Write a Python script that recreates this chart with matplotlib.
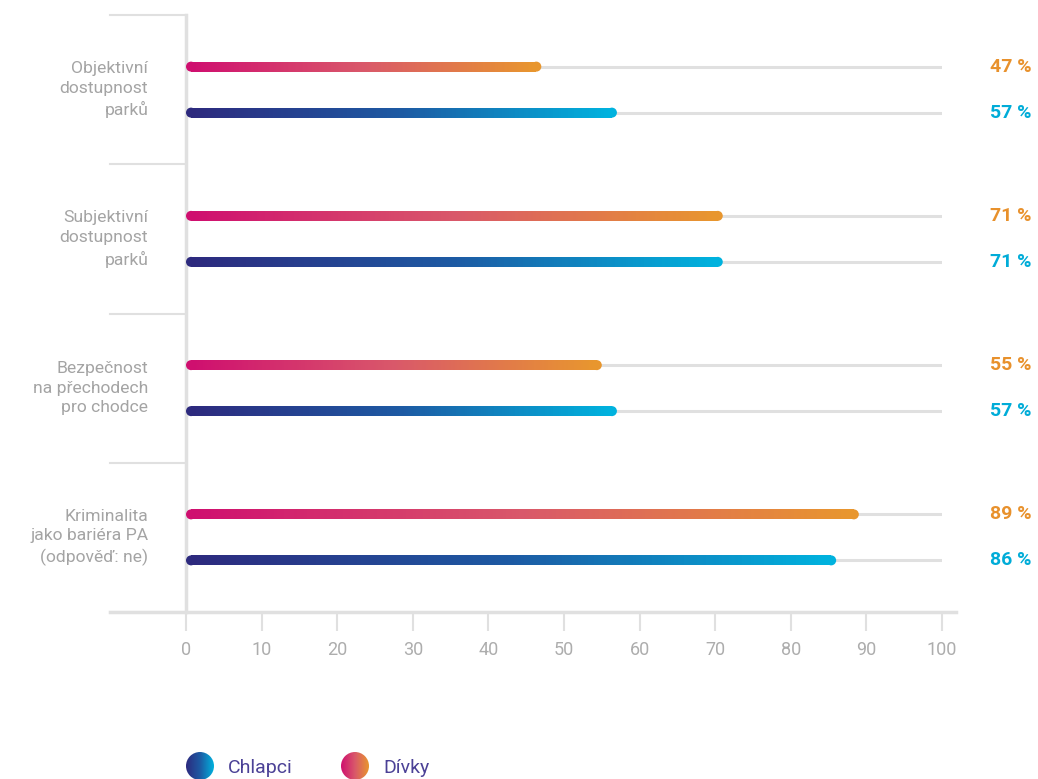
import numpy as np
import matplotlib
matplotlib.use("Agg")
import matplotlib.pyplot as plt
from matplotlib.collections import LineCollection
from matplotlib.colors import LinearSegmentedColormap
from matplotlib.patches import Circle

plt.rcParams['font.family'] = ['Roboto', 'DejaVu Sans']

categories = ["Objektivní\ndostupnost\nparků",
              "Subjektivní\ndostupnost\nparků",
              "Bezpečnost\nna přechodech\npro chodce",
              "Kriminalita\njako bariéra PA\n(odpověď: ne)"]
divky = [47, 71, 55, 89]
chlapci = [57, 71, 57, 86]
xticks = list(range(0, 101, 10))

cmap_boys = LinearSegmentedColormap.from_list("boys", ["#2d2a7e", "#1d5aa3", "#00b2de"])
cmap_girls = LinearSegmentedColormap.from_list("girls", ["#cf0f6f", "#d9586a", "#e8962e"])
col_girls_txt = "#e8912c"
col_boys_txt = "#00acd8"
grid_col = "#e0e0e0"
label_col = "#a4a4a4"

W, H = 1038, 779
fig = plt.figure(figsize=(W / 100, H / 100), dpi=100)

# main axes: x 0..100 between px 186 and 942, bands between px 15 and 612
ax = fig.add_axes([186 / W, 1 - 612 / H, (942 - 186) / W, (612 - 15) / H])
ax.set_xlim(0, 100)
ax.set_ylim(0, 4)
for s in ax.spines.values():
    s.set_visible(False)
ax.set_yticks([])
ax.set_xticks(xticks)
ax.tick_params(axis='x', length=14, width=1.5, color=grid_col, pad=7,
               labelsize=13, labelcolor="#adadad")

px = 100 / 756  # data units per pixel on x
off = 23 / (597 / 4)  # vertical offset of the two bars within a band
lw = 10 * 0.72
r = 5 * px


def grad_bar(y, val, cmap):
    n = 200
    xs = np.linspace(r, val - r, n + 1)
    segs = [[(xs[i], y), (xs[i + 1], y)] for i in range(n)]
    cols = cmap(np.linspace(0, 1, n))
    ax.add_collection(LineCollection(segs, colors=cols, linewidths=lw,
                                     capstyle='butt', zorder=3))
    ax.scatter([r, val - r], [y, y], s=lw ** 2, c=[cmap(0.0), cmap(1.0)],
               linewidths=0, zorder=3)


for i, cat in enumerate(categories):
    yc = 3.5 - i
    yg, yb = yc + off, yc - off
    for yy in (yg, yb):
        ax.plot([0, 100], [yy, yy], color=grid_col, lw=2.2, zorder=1,
                solid_capstyle='butt')
    grad_bar(yg, divky[i], cmap_girls)
    grad_bar(yb, chlapci[i], cmap_boys)
    ax.text(-5.0, yc, cat, ha='right', va='center', multialignment='right',
            fontsize=12.6, color=label_col, linespacing=1.4)
    ax.text(111.9, yg, f"{divky[i]} %", ha='right', va='center', fontsize=14,
            color=col_girls_txt, fontweight='bold', clip_on=False)
    ax.text(111.9, yb, f"{chlapci[i]} %", ha='right', va='center', fontsize=14,
            color=col_boys_txt, fontweight='bold', clip_on=False)

# band separators, left axis line and bottom axis line
for yy in range(0, 5):
    ax.plot([-10.05, 0], [yy, yy], color=grid_col, lw=1.5, clip_on=False, zorder=1)
ax.plot([0, 0], [0, 4], color=grid_col, lw=2.5, clip_on=False, zorder=2)
ax.plot([-10.05, 101.9], [0, 0], color=grid_col, lw=2.5, clip_on=False, zorder=2)

# legend in pixel coordinates
leg = fig.add_axes([0, 0, 1, 1], zorder=-1)
leg.set_xlim(0, W)
leg.set_ylim(H, 0)
leg.axis('off')
grad = np.linspace(0, 1, 256).reshape(1, -1)
legend_items = [("Chlapci", cmap_boys, 200), ("Dívky", cmap_girls, 355)]
for name, cm, cx in legend_items:
    cy, rad = 766, 14
    im = leg.imshow(grad, cmap=cm, extent=[cx - rad, cx + rad, cy + rad, cy - rad],
                    aspect='auto', interpolation='bilinear')
    circ = Circle((cx, cy), rad, transform=leg.transData, facecolor='none',
                  edgecolor='none')
    leg.add_patch(circ)
    im.set_clip_path(circ)
    leg.text(cx + 28, cy + 2, name, ha='left', va='center', fontsize=14,
             color="#4b4196")
leg.set_xlim(0, W)
leg.set_ylim(H, 0)

fig.savefig("out.png", dpi=100)
